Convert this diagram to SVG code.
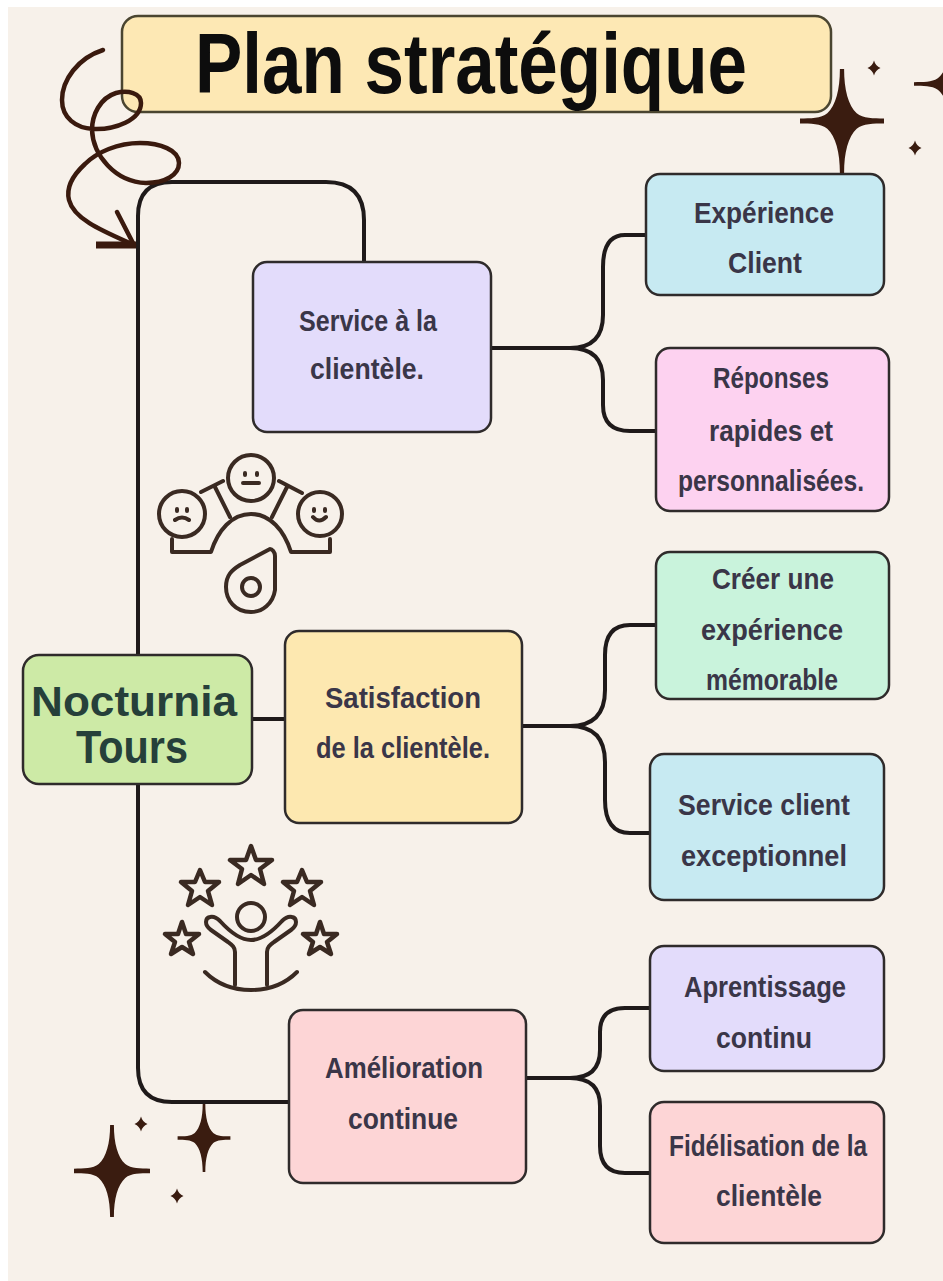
<svg xmlns="http://www.w3.org/2000/svg" width="943" height="1281" viewBox="0 0 943 1281">
<style>
.n{stroke:#2f2b2b;stroke-width:2.5}
.c{fill:none;stroke:#1f1a1a;stroke-width:4}
.i{fill:none;stroke:#3a2a22;stroke-width:4;stroke-linecap:round;stroke-linejoin:round}
.st{stroke-width:4.5;stroke-linecap:butt}
.sw{fill:none;stroke:#3a1a0e;stroke-width:4.5;stroke-linecap:round;stroke-linejoin:round}
.t{font-family:"Liberation Sans Narrow","Liberation Sans",Arial,sans-serif;font-weight:700;font-size:30px;fill:#3a3648;text-anchor:middle}
.r{font-family:"Liberation Sans","Noto Sans",Arial,sans-serif;font-weight:700;fill:#26403a;text-anchor:middle}
.s{fill:#3a1c10}
</style>
<defs>
<path id="sp" d="M-2-40H2C2-24 6-12 14-6C20-2 30-2 40-2V2C30 2 20 2 14 6C6 12 2 24 2 40H-2C-2 24-6 12-14 6C-20 2-30 2-40 2V-2C-30-2-20-2-14-6C-6-12-2-24-2-40Z"/>
<path id="dm" d="M0-7.5Q1.5-2 6.5 0Q1.5 2 0 7.5Q-1.5 2-6.5 0Q-1.5-2 0-7.5Z"/>
</defs>
<rect width="943" height="1281" fill="#fff"/>
<rect x="8" y="7" width="935" height="1274" fill="#f7f1ea"/>
<g id="connectors">
<path class="c" d="M364 262V220Q364 182 326 182H172Q138 182 138 216V1068Q138 1102 172 1102H290"/>
<path class="c" d="M252 719H286"/>
<path class="c" d="M491 348H570Q603 348 603 315V267Q603 235 625 235H646M570 348Q603 348 603 380V405Q603 431 630 431H656"/>
<path class="c" d="M522 726H570Q605 726 605 690V655Q605 625 630 625H656M570 726Q605 726 605 762V800Q605 833 630 833H650"/>
<path class="c" d="M526 1078H570Q600 1078 600 1050V1032Q600 1008 625 1008H650M570 1078Q600 1078 600 1106V1146Q600 1173 625 1173H650"/>
</g>
<g id="title">
<rect x="122" y="16" width="709" height="96" rx="16" fill="#fde8b4" stroke="#4a4530" stroke-width="2.5"/>
<text x="471" y="93" font-family="Liberation Sans Narrow,Liberation Sans,Arial,sans-serif" font-weight="700" font-size="86" fill="#0d0d0d" text-anchor="middle" textLength="552" lengthAdjust="spacingAndGlyphs">Plan stratégique</text>
</g>
<g id="node-root">
<rect class="n" x="23" y="655" width="229" height="129" rx="16" fill="#cdeaa6"/>
<text class="r" x="134" y="716" font-size="42" textLength="206" lengthAdjust="spacingAndGlyphs">Nocturnia</text>
<text class="r" x="132" y="763" font-size="46" textLength="112" lengthAdjust="spacingAndGlyphs">Tours</text>
</g>
<g id="node-service">
<rect class="n" x="253" y="262" width="238" height="170" rx="14" fill="#e3dcfb"/>
<text class="t" x="368" y="331" textLength="138" lengthAdjust="spacingAndGlyphs">Service à la</text>
<text class="t" x="367" y="379" textLength="114" lengthAdjust="spacingAndGlyphs">clientèle.</text>
</g>
<g id="node-satisfaction">
<rect class="n" x="285" y="631" width="237" height="192" rx="14" fill="#fde8b0"/>
<text class="t" x="403" y="708" textLength="156" lengthAdjust="spacingAndGlyphs">Satisfaction</text>
<text class="t" x="403" y="758" textLength="174" lengthAdjust="spacingAndGlyphs">de la clientèle.</text>
</g>
<g id="node-amelioration">
<rect class="n" x="289" y="1010" width="237" height="173" rx="14" fill="#fdd5d6"/>
<text class="t" x="404" y="1078" textLength="158" lengthAdjust="spacingAndGlyphs">Amélioration</text>
<text class="t" x="403" y="1129" textLength="110" lengthAdjust="spacingAndGlyphs">continue</text>
</g>
<g id="node-experience">
<rect class="n" x="646" y="174" width="238" height="121" rx="14" fill="#c7eaf2"/>
<text class="t" x="764" y="223" textLength="140" lengthAdjust="spacingAndGlyphs">Expérience</text>
<text class="t" x="765" y="273" textLength="74" lengthAdjust="spacingAndGlyphs">Client</text>
</g>
<g id="node-reponses">
<rect class="n" x="656" y="348" width="233" height="163" rx="14" fill="#fdd2f0"/>
<text class="t" x="771" y="388" textLength="116" lengthAdjust="spacingAndGlyphs">Réponses</text>
<text class="t" x="771" y="441" textLength="124" lengthAdjust="spacingAndGlyphs">rapides et</text>
<text class="t" x="771" y="491" textLength="186" lengthAdjust="spacingAndGlyphs">personnalisées.</text>
</g>
<g id="node-creer">
<rect class="n" x="656" y="552" width="233" height="147" rx="14" fill="#c9f3dc"/>
<text class="t" x="773" y="589" textLength="122" lengthAdjust="spacingAndGlyphs">Créer une</text>
<text class="t" x="772" y="640" textLength="142" lengthAdjust="spacingAndGlyphs">expérience</text>
<text class="t" x="772" y="690" textLength="132" lengthAdjust="spacingAndGlyphs">mémorable</text>
</g>
<g id="node-exceptionnel">
<rect class="n" x="650" y="754" width="234" height="146" rx="14" fill="#c7eaf2"/>
<text class="t" x="764" y="815" textLength="172" lengthAdjust="spacingAndGlyphs">Service client</text>
<text class="t" x="764" y="866" textLength="166" lengthAdjust="spacingAndGlyphs">exceptionnel</text>
</g>
<g id="node-apprentissage">
<rect class="n" x="650" y="946" width="234" height="125" rx="14" fill="#e3dcfb"/>
<text class="t" x="765" y="997" textLength="162" lengthAdjust="spacingAndGlyphs">Aprentissage</text>
<text class="t" x="764" y="1048" textLength="96" lengthAdjust="spacingAndGlyphs">continu</text>
</g>
<g id="node-fidelisation">
<rect class="n" x="650" y="1102" width="234" height="141" rx="14" fill="#fdd5d6"/>
<text class="t" x="768" y="1156" textLength="198" lengthAdjust="spacingAndGlyphs">Fidélisation de la</text>
<text class="t" x="769" y="1206" textLength="106" lengthAdjust="spacingAndGlyphs">clientèle</text>
</g>
<g id="swirl">
<path class="sw" d="M103 50C78 58 62 80 62 100C62 118 76 128 93 129C115 130 141 120 141 103C141 93 128 90 116 93C100 98 92 115 92 130C93 155 115 182 146 183C165 183 179 175 179 163C179 150 160 143 140 143C118 143 97 152 85 164C72 176 66 188 69 200C74 220 105 232 134 245"/>
<path class="sw" d="M117 212L134 245"/>
<path class="sw" d="M96 245H136" style="stroke-width:7;stroke-linecap:butt"/>
</g>
<g id="icon-faces">
<circle class="i" cx="182" cy="514" r="23"/><circle class="i" cx="251" cy="478" r="23"/><circle class="i" cx="320" cy="514" r="22"/>
<path class="i" d="M172 539V552H211C218 530 232 514 251 514C270 514 284 530 291 552H330V539"/>
<path class="i" d="M201 492L223 481M279 481L302 493M215 487L230 517M287 487L272 517"/>
<path class="i" d="M270 549C272 549 275 552 275 556V590C273 604 262 612 251 612C235 612 226 600 226 587C226 575 232 570 240 565Z"/>
<circle class="i" cx="251" cy="587" r="9"/>
<path class="i" d="M177 509v2M187 509v2M245 473v2M257 473v2M314 509v2M325 509v2M175 520Q182 515 189 520M243 483H259M313 517Q319 524 326 517"/>
</g>
<g id="icon-stars">
<path class="i st" d="M251 846L256 860L272 860L260 869L264 884L251 875L238 884L242 869L230 860L246 860Z"/>
<path class="i st" d="M200 870L205 882L219 882L208 891L212 905L200 897L188 905L192 891L181 882L195 882Z"/>
<path class="i st" d="M302 870L307 882L321 882L310 891L314 905L302 897L290 905L294 891L283 882L297 882Z"/>
<path class="i st" d="M182 922L186 934L199 934L189 942L193 954L182 947L171 954L175 942L165 934L178 934Z"/>
<path class="i st" d="M320 922L324 934L337 934L327 942L331 954L320 947L309 954L313 942L303 934L316 934Z"/>
<circle class="i" cx="251" cy="917" r="14"/>
<path class="i" d="M235 985V952C235 947 232 945 228 942L211 930C204 925 205 918 210 917C214 916 217 918 220 921C230 932 241 940 251 940C261 940 272 932 282 921C285 918 288 916 292 917C297 918 298 925 291 930L274 942C270 945 267 947 267 952V985"/>
<path class="i" d="M205 972C218 985 235 990 251 990C267 990 284 985 297 972"/>
</g>
<g id="sparkles" class="s">
<use href="#sp" transform="translate(842 121) scale(1.05 1.3)"/>
<use href="#dm" transform="translate(874 68)"/>
<use href="#dm" transform="translate(915 148)"/>
<use href="#sp" transform="translate(950 84) scale(.9)"/>
<use href="#sp" transform="translate(112 1171) scale(.95 1.15)"/>
<use href="#sp" transform="translate(204 1138) scale(.66 .85)"/>
<use href="#dm" transform="translate(141 1124)"/>
<use href="#dm" transform="translate(177 1196)"/>
</g>
</svg>
